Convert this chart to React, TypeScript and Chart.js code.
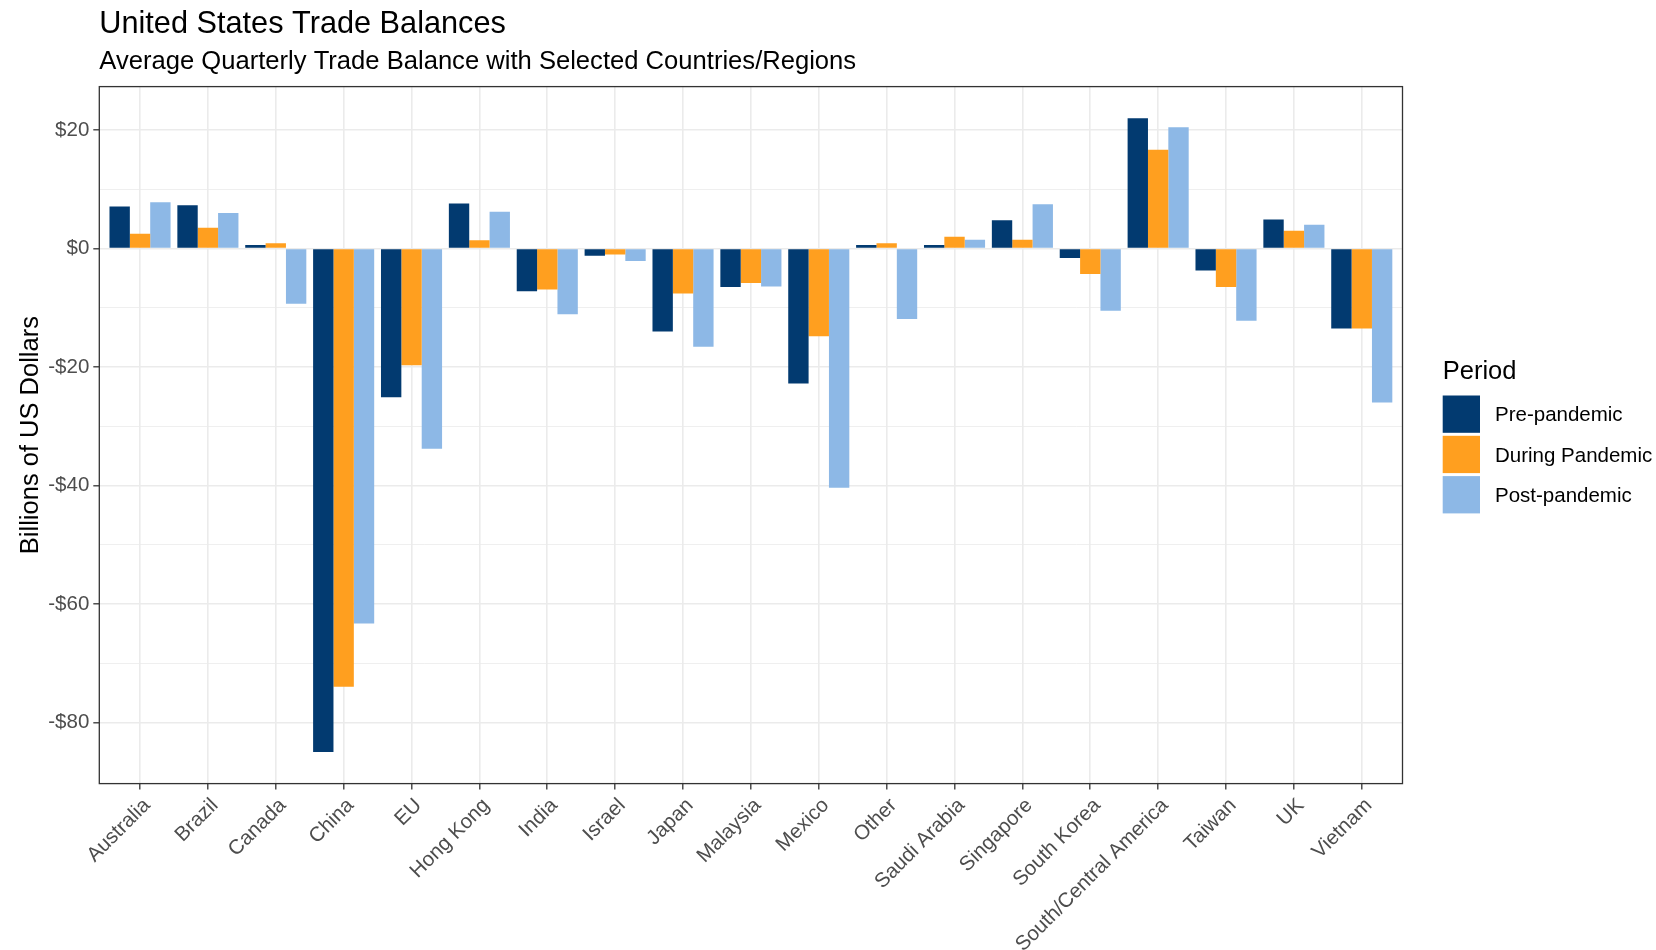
import React, { useEffect, useRef } from 'react';
import { Chart, registerables } from 'chart.js';

Chart.register(...registerables);

const categories = [
  'Australia', 'Brazil', 'Canada', 'China', 'EU', 'Hong Kong', 'India', 'Israel', 'Japan',
  'Malaysia', 'Mexico', 'Other', 'Saudi Arabia', 'Singapore', 'South Korea',
  'South/Central America', 'Taiwan', 'UK', 'Vietnam',
];
const prePandemic = [7.1, 7.3, 0.6, -85.0, -25.1, 7.6, -7.2, -1.2, -14.0, -6.5, -22.8, 0.6, 0.6, 4.8, -1.6, 22.0, -3.7, 4.9, -13.5];
const duringPandemic = [2.5, 3.5, 0.9, -74.0, -19.7, 1.4, -6.9, -1.0, -7.6, -5.8, -14.8, 0.9, 2.0, 1.5, -4.3, 16.7, -6.5, 3.0, -13.5];
const postPandemic = [7.8, 6.0, -9.3, -63.3, -33.8, 6.2, -11.1, -2.1, -16.6, -6.4, -40.4, -11.9, 1.5, 7.5, -10.5, 20.5, -12.2, 4.0, -26.0];
const seriesNames = ['Pre-pandemic', 'During Pandemic', 'Post-pandemic'];
const seriesColors = ['#023A70', '#FF9F1F', '#8DB8E6'];
const yMajorTicks = [-80, -60, -40, -20, 0, 20];
const yMinorTicks = [-70, -50, -30, -10, 10];
const yMin = -90.35;
const yMax = 27.35;
const chartTitle = 'United States Trade Balances';
const chartSubtitle = 'Average Quarterly Trade Balance with Selected Countries/Regions';
const yAxisTitle = 'Billions of US Dollars';
const legendTitle = 'Period';

const FONT = '"Liberation Sans", Arial, Helvetica, sans-serif';

const W = 1656;
const H = 950;
const PANEL = { left: 99.3, right: 1402.5, top: 86.6, bottom: 783.6 };

const fmtDollar = (v: number) => (v < 0 ? `-$${Math.abs(v)}` : `$${v}`);

const decorPlugin = {
  id: 'decor',
  afterDatasetsDraw(chart: any) {
    const { ctx, chartArea } = chart;
    ctx.save();
    ctx.strokeStyle = '#333333';
    ctx.lineWidth = 1.3;
    ctx.strokeRect(chartArea.left, chartArea.top, chartArea.right - chartArea.left, chartArea.bottom - chartArea.top);
    ctx.restore();
  },
  afterDraw(chart: any) {
    const { ctx, chartArea } = chart;
    ctx.save();
    ctx.fillStyle = '#000000';
    ctx.textAlign = 'left';
    ctx.textBaseline = 'alphabetic';
    ctx.font = `30.7px ${FONT}`;
    ctx.fillText(chartTitle, chartArea.left, 33);
    ctx.font = `25.6px ${FONT}`;
    ctx.fillText(chartSubtitle, chartArea.left, 69);

    // y axis title
    ctx.save();
    ctx.translate(38, (chartArea.top + chartArea.bottom) / 2);
    ctx.rotate(-Math.PI / 2);
    ctx.textAlign = 'center';
    ctx.textBaseline = 'alphabetic';
    ctx.font = `25.5px ${FONT}`;
    ctx.fillText(yAxisTitle, 0, 0);
    ctx.restore();

    // legend
    const lx = 1442.7;
    ctx.font = `25.5px ${FONT}`;
    ctx.textAlign = 'left';
    ctx.textBaseline = 'alphabetic';
    ctx.fillText(legendTitle, lx, 378.5);
    const keyTop = 394.5;
    const rowH = 40.3;
    seriesNames.forEach((name, i) => {
      const y0 = keyTop + i * rowH;
      ctx.fillStyle = seriesColors[i];
      ctx.fillRect(lx, y0 + 1, 37.3, 37.3);
      ctx.fillStyle = '#000000';
      ctx.font = `20.5px ${FONT}`;
      ctx.textBaseline = 'middle';
      ctx.fillText(name, 1495, y0 + 2.5 + 37.3 / 2);
    });
    ctx.restore();
  },
};

export default function App() {
  const canvasRef = useRef<HTMLCanvasElement | null>(null);

  useEffect(() => {
    document.body.style.margin = '0';
    const canvas = canvasRef.current;
    if (!canvas) return;
    const datasets = [prePandemic, duringPandemic, postPandemic].map((data, i) => ({
      label: seriesNames[i],
      data,
      backgroundColor: seriesColors[i],
      borderWidth: 0,
      categoryPercentage: 0.9,
      barPercentage: 1.0,
    }));
    const chart = new Chart(canvas, {
      type: 'bar',
      data: { labels: categories, datasets },
      plugins: [decorPlugin],
      options: {
        animation: false,
        responsive: false,
        devicePixelRatio: 1,
        layout: {
          padding: { top: PANEL.top, right: W - PANEL.right, left: 0, bottom: 0 },
        },
        plugins: {
          legend: { display: false },
          title: { display: false },
          tooltip: { enabled: false },
        },
        scales: {
          x: {
            type: 'category',
            offset: true,
            afterBuildTicks: (scale: any) => {
              scale._startValue = -0.6;
              scale._valueRange = categories.length - 1 + 1.2;
            },
            afterFit: (scale: any) => {
              scale.height = H - PANEL.bottom;
            },
            border: { display: false },
            grid: {
              offset: false,
              color: '#EBEBEB',
              lineWidth: 1.6,
              drawTicks: true,
              tickLength: 6,
              tickColor: '#333333',
              tickWidth: 1.3,
            },
            ticks: {
              autoSkip: false,
              maxRotation: 45,
              minRotation: 45,
              padding: 4,
              labelOffset: 7,
              color: '#4D4D4D',
              font: { family: FONT, size: 20.5 },
            },
          },
          y: {
            type: 'linear',
            min: yMin,
            max: yMax,
            afterBuildTicks: (scale: any) => {
              const all = [...yMajorTicks, ...yMinorTicks].sort((a, b) => a - b);
              scale.ticks = all.map((v) => ({ value: v }));
            },
            afterFit: (scale: any) => {
              scale.width = PANEL.left;
            },
            border: { display: false },
            grid: {
              color: '#EBEBEB',
              lineWidth: (ctx: any) => (yMajorTicks.includes(ctx.tick?.value) ? 1.6 : 0.8),
              drawTicks: true,
              tickLength: 6,
              tickWidth: 1.3,
              tickColor: (ctx: any) => (yMajorTicks.includes(ctx.tick?.value) ? '#333333' : 'rgba(0,0,0,0)'),
            },
            ticks: {
              padding: 4,
              color: '#4D4D4D',
              font: { family: FONT, size: 20.5 },
              callback: (value: any) => (yMajorTicks.includes(Number(value)) ? fmtDollar(Number(value)) : ''),
            },
          },
        },
      },
    });
    return () => chart.destroy();
  }, []);

  return (
    <div style={{ width: W, height: H, background: '#ffffff' }}>
      <canvas ref={canvasRef} width={W} height={H} style={{ display: 'block' }} />
    </div>
  );
}
